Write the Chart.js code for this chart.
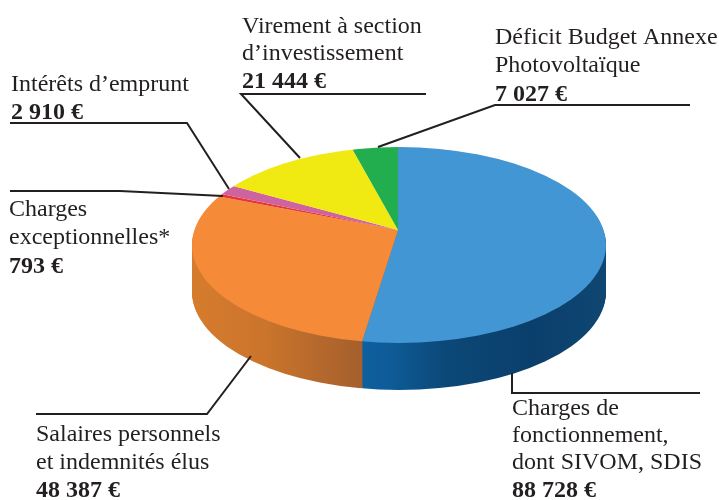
<!DOCTYPE html>
<html lang="fr">
<head>
<meta charset="utf-8">
<title>Dépenses de fonctionnement</title>
<style>
html,body{margin:0;padding:0;background:#fff;}
#wrap{width:719px;height:500px;}
canvas{display:block;}
</style>
<script src="https://cdn.jsdelivr.net/npm/chart.js@4/dist/chart.umd.min.js"></script>
</head>
<body>
<div id="wrap"><canvas id="c" width="719" height="500"></canvas></div>
<script>
const categories = [
  "Charges de fonctionnement, dont SIVOM, SDIS",
  "Salaires personnels et indemnités élus",
  "Charges exceptionnelles*",
  "Intérêts d’emprunt",
  "Virement à section d’investissement",
  "Déficit Budget Annexe Photovoltaïque"
];
const values = [88728, 48387, 793, 2910, 21444, 7027];
const labelLines = [
  ["Charges de", "fonctionnement,", "dont SIVOM, SDIS"],
  ["Salaires personnels", "et indemnités élus"],
  ["Charges", "exceptionnelles*"],
  ["Intérêts d’emprunt"],
  ["Virement à section", "d’investissement"],
  ["Déficit Budget Annexe", "Photovoltaïque"]
];

/* ---- styling and layout, separate from the data ---- */
const topColors = ["#4296d3", "#f58a38", "#e8372e", "#cf639f", "#f0e912", "#22ad4e"];
const labelBoxes = [
  {x: 512, y: [415, 442, 469, 497]},
  {x: 36,  y: [441, 469, 497]},
  {x: 9,   y: [216, 244, 273]},
  {x: 11,  y: [91, 119]},
  {x: 242, y: [33, 60, 88]},
  {x: 495, y: [44, 72, 101]}
];
const leaders = [
  [[512,373],[512,393],[700,393]],
  [[36,414],[207,414],[251,356]],
  [[10,191],[120,191],[223,196]],
  [[10,123],[187,123],[229,189]],
  [[241,94],[426,94],[241,94],[300,158]],
  [[690,105],[495,105],[378,147]]
];
const pie = {apexX: 398, apexY: 230, cx: 399, cy: 245, rx: 207, ry: 98, tilt: 0.473, depth: 47};

function euro(v){ return String(v).replace(/\B(?=(\d{3})+$)/g, " ") + " €"; }

function ellipseClip(ctx, dy){
  ctx.beginPath();
  ctx.ellipse(pie.cx, pie.cy + dy, pie.rx, pie.ry, 0, 0, Math.PI * 2);
  ctx.clip();
}
function pieTransform(chart, ctx, dy){
  const a = chart.getDatasetMeta(0).data[0];
  ctx.translate(pie.apexX, pie.apexY + dy);
  ctx.scale(1, pie.tilt);
  ctx.translate(-a.x, -a.y);
}
function sideGradients(ctx){
  const blue = ctx.createLinearGradient(360, 0, 606, 0);
  blue.addColorStop(0, "#0e609f");
  blue.addColorStop(0.12, "#0e5c98");
  blue.addColorStop(0.35, "#0b4878");
  blue.addColorStop(0.7, "#0b3f6b");
  blue.addColorStop(1, "#0f4672");
  const orange = ctx.createLinearGradient(192, 0, 360, 0);
  orange.addColorStop(0, "#d67c2e");
  orange.addColorStop(0.45, "#ca742c");
  orange.addColorStop(1, "#a6602d");
  return [blue, orange];
}

const pie3d = {
  id: "pie3d",
  beforeDatasetsDraw(chart){
    const ctx = chart.ctx;
    const arcs = chart.getDatasetMeta(0).data;
    const sides = sideGradients(ctx);
    const saved = arcs.map(a => a.options.backgroundColor);
    [0, 1].forEach(i => { arcs[i].options.backgroundColor = sides[i]; });
    for (let dy = pie.depth; dy >= 1; dy--) {
      ctx.save();
      ellipseClip(ctx, dy);
      pieTransform(chart, ctx, dy);
      arcs.slice(0, 2).forEach(a => a.draw(ctx));
      ctx.restore();
    }
    arcs.forEach((a, i) => { a.options.backgroundColor = saved[i]; });
    ctx.save();
    ellipseClip(ctx, 0);
    pieTransform(chart, ctx, 0);
  },
  afterDatasetsDraw(chart){
    chart.ctx.restore();
  }
};

const annotations = {
  id: "annotations",
  afterDraw(chart){
    const ctx = chart.ctx;
    ctx.save();
    ctx.strokeStyle = "#231f20";
    ctx.lineWidth = 2;
    ctx.lineJoin = "miter";
    leaders.forEach(path => {
      ctx.beginPath();
      path.forEach((p, i) => i ? ctx.lineTo(p[0], p[1]) : ctx.moveTo(p[0], p[1]));
      ctx.stroke();
    });
    ctx.fillStyle = "#231f20";
    ctx.textBaseline = "alphabetic";
    ctx.textAlign = "left";
    labelLines.forEach((lines, i) => {
      const box = labelBoxes[i];
      ctx.font = "24px 'Liberation Serif'";
      lines.forEach((t, j) => ctx.fillText(t, box.x, box.y[j]));
      ctx.font = "bold 24px 'Liberation Serif'";
      ctx.fillText(euro(values[i]), box.x, box.y[lines.length]);
    });
    ctx.restore();
  }
};

new Chart(document.getElementById("c"), {
  type: "pie",
  data: {
    labels: categories,
    datasets: [{data: values, backgroundColor: topColors, borderWidth: 0, hoverOffset: 0}]
  },
  options: {
    responsive: false,
    animation: false,
    layout: {padding: {left: 79}},
    plugins: {legend: {display: false}, tooltip: {enabled: false}}
  },
  plugins: [pie3d, annotations]
});
</script>
</body>
</html>
